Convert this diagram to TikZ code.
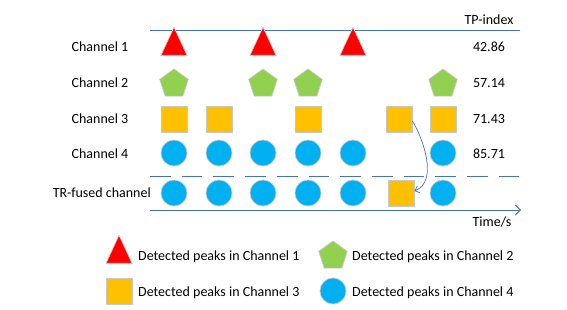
\documentclass[tikz,border=0pt]{standalone}
\usepackage{fontspec}
\setmainfont{Carlito}
\usetikzlibrary{shapes.geometric,arrows.meta}
\definecolor{cred}{HTML}{FF0000}
\definecolor{cgreen}{HTML}{92D050}
\definecolor{corange}{HTML}{FFC000}
\definecolor{cblue}{HTML}{00B0F0}
\definecolor{cline}{HTML}{4472C4}
\definecolor{cedge}{HTML}{C8C8C8}
\tikzset{
  tri/.style={isosceles triangle, shape border rotate=90, isosceles triangle stretches,
    minimum width=26pt, minimum height=28pt, inner sep=0pt, fill=cred, draw=cedge, line width=0.7pt},
  pent/.style={regular polygon, regular polygon sides=5, minimum size=30pt, inner sep=0pt,
    fill=cgreen, draw=cedge, line width=0.7pt},
  sq/.style={rectangle, minimum size=26pt, inner sep=0pt, fill=corange, draw=cedge, line width=0.7pt},
  circ/.style={circle, minimum size=26pt, inner sep=0pt, fill=cblue, draw=cedge, line width=0.7pt},
  lbl/.style={font=\fontsize{14}{17}\selectfont, inner sep=0pt},
  axisline/.style={draw=cline, line width=1pt},
}
\begin{document}
\begin{tikzpicture}[x=1pt,y=-1pt]
\useasboundingbox (0,0) rectangle (567,310);
% axes
\coordinate (topL) at (150,31);
\coordinate (topR) at (520,31);
\coordinate (dashL) at (150,176);
\coordinate (dashR) at (520,176);
\coordinate (axL) at (150,210);
\coordinate (axR) at (521,210);
\draw[axisline] (topL) -- (topR);
\draw[axisline, dash pattern=on 20.7pt off 11pt] (dashL) -- (dashR);
\draw[axisline, -{Straight Barb[length=5pt,width=10pt]}] (axL) -- (axR);
% labels
\node[lbl] (l1) at (100,47) {Channel 1};
\node[lbl] (l2) at (100,83) {Channel 2};
\node[lbl] (l3) at (100,119) {Channel 3};
\node[lbl] (l4) at (100,154) {Channel 4};
\node[lbl, anchor=east] (l5) at (151,193) {TR-fused channel};
\node[lbl] (tp) at (489,20) {TP-index};
\node[lbl] (v1) at (489,47) {42.86};
\node[lbl] (v2) at (489,83) {57.14};
\node[lbl] (v3) at (489,119) {71.43};
\node[lbl] (v4) at (489,154) {85.71};
\node[lbl] (time) at (492,222) {Time/s};
% channel 1
\node[tri] (a1) at (174,47) {};
\node[tri] (a3) at (263,47) {};
\node[tri] (a5) at (353,47) {};
% channel 2
\node[pent] (b1) at (174,84) {};
\node[pent] (b3) at (263,84) {};
\node[pent] (b4) at (308,84) {};
\node[pent] (b7) at (443,84) {};
% channel 3
\node[sq] (c1) at (174,119) {};
\node[sq] (c2) at (219,119) {};
\node[sq] (c4) at (308,119) {};
\node[sq] (c6) at (399,119) {};
\node[sq] (c7) at (443,119) {};
% channel 4
\node[circ] (d1) at (174,153) {};
\node[circ] (d2) at (219,153) {};
\node[circ] (d3) at (263,153) {};
\node[circ] (d4) at (308,153) {};
\node[circ] (d5) at (353,153) {};
\node[circ] (d7) at (443,153) {};
% fused
\node[circ] (f1) at (174,193) {};
\node[circ] (f2) at (219,193) {};
\node[circ] (f3) at (263,193) {};
\node[circ] (f4) at (308,193) {};
\node[circ] (f5) at (353,193) {};
\node[sq] (f6) at (401,193) {};
\node[circ] (f7) at (443,193) {};
% curved arrow
\draw[cline, line width=0.7pt, -{Straight Barb[length=4pt,width=7pt]}]
  ([yshift=-2pt]c6.east) .. controls (424,140) and (438,182) .. ([yshift=2pt]f6.east);
% legend
\node[tri] (g1) at (119,255) {};
\node[lbl, anchor=west] (t1) at (138,257) {Detected peaks in Channel 1};
\node[pent] (g2) at (333,256) {};
\node[lbl, anchor=west] (t2) at (352,257) {Detected peaks in Channel 2};
\node[sq] (g3) at (119,291) {};
\node[lbl, anchor=west] (t3) at (138,293) {Detected peaks in Channel 3};
\node[circ] (g4) at (333,291) {};
\node[lbl, anchor=west] (t4) at (352,293) {Detected peaks in Channel 4};
\end{tikzpicture}
\end{document}
